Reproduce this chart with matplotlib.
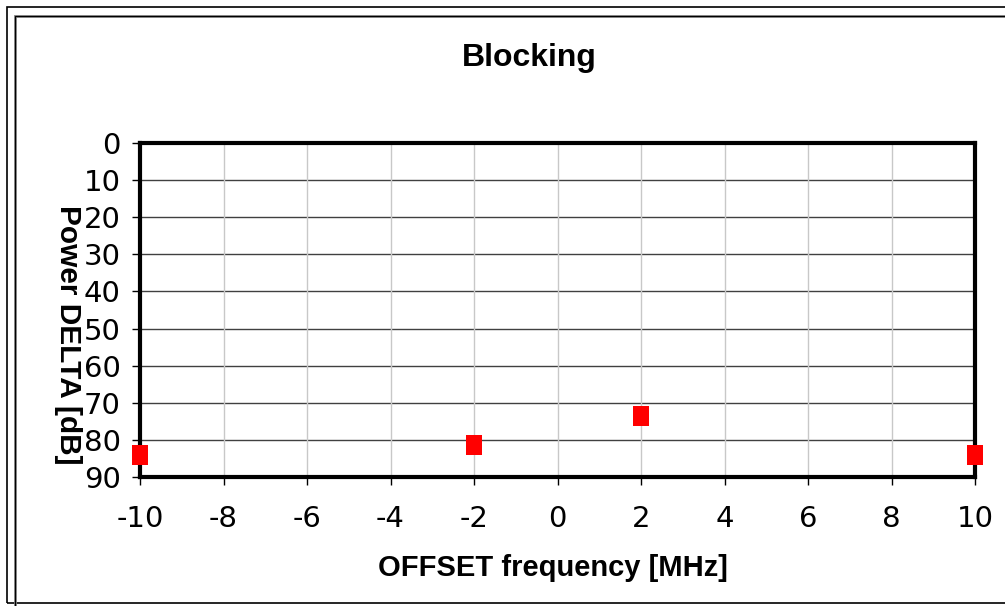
import matplotlib.pyplot as plt
from matplotlib.patches import Rectangle

# data
offset_mhz = [-10, -2, 2, 10]
power_delta_db = [84, 81.5, 73.5, 84]
x_ticks = list(range(-10, 11, 2))
y_ticks = list(range(0, 91, 10))

fig = plt.figure(figsize=(10.05, 6.06), dpi=100)
W, H = 1005, 606

# outer frames (Excel-style chart border)
fig.patches.append(Rectangle((7 / W, 3 / H), 1.2, (H - 10) / H, transform=fig.transFigure,
                             fill=False, edgecolor='black', linewidth=1.2))
fig.patches.append(Rectangle((15 / W, -0.1), 1.2, (H - 16) / H + 0.1, transform=fig.transFigure,
                             fill=False, edgecolor='#808080', linewidth=2))
fig.patches.append(Rectangle((15 / W, -0.1), 1.2, (H - 16) / H + 0.1, transform=fig.transFigure,
                             fill=False, edgecolor='black', linewidth=0.8))

left, right, top, bottom = 140, 975, 143, 477
ax = fig.add_axes([left / W, 1 - bottom / H, (right - left) / W, (bottom - top) / H])

rect_marker = [(-0.8, -1), (0.8, -1), (0.8, 1), (-0.8, 1), (-0.8, -1)]
ax.scatter(offset_mhz, power_delta_db, marker=rect_marker, s=210, color='red',
           linewidths=0, zorder=5, clip_on=False)

ax.set_xlim(-10, 10)
ax.set_ylim(90, 0)
ax.set_xticks(x_ticks)
ax.set_yticks(y_ticks)
ax.set_xticklabels([str(v) for v in x_ticks])

# gridlines: dark horizontal, light vertical
for v in y_ticks:
    ax.axhline(v, color='#404040', linewidth=1.0, zorder=1)
for v in x_ticks:
    ax.axvline(v, color='#c8c8c8', linewidth=1.0, zorder=1)

for s in ax.spines.values():
    s.set_linewidth(3)
    s.set_color('black')
    s.set_zorder(4)

ax.tick_params(direction='out', length=6, width=1, colors='black', labelsize=21)
ax.tick_params(axis='x', pad=14)
ax.tick_params(axis='y', pad=8)
for lbl in ax.get_xticklabels() + ax.get_yticklabels():
    lbl.set_family('DejaVu Sans')

fig.text(529 / W, 1 - 58 / H, 'Blocking', fontsize=23, fontweight='bold',
         family='Liberation Sans', ha='center', va='center')
fig.text(553 / W, 1 - 568 / H, 'OFFSET frequency [MHz]', fontsize=21, fontweight='bold',
         family='Liberation Sans', ha='center', va='center')
fig.text(68 / W, 1 - 335 / H, 'Power DELTA [dB]', fontsize=21.5, fontweight='bold',
         family='Liberation Sans', rotation=-90, ha='center', va='center')

plt.savefig('out.png', dpi=100)
